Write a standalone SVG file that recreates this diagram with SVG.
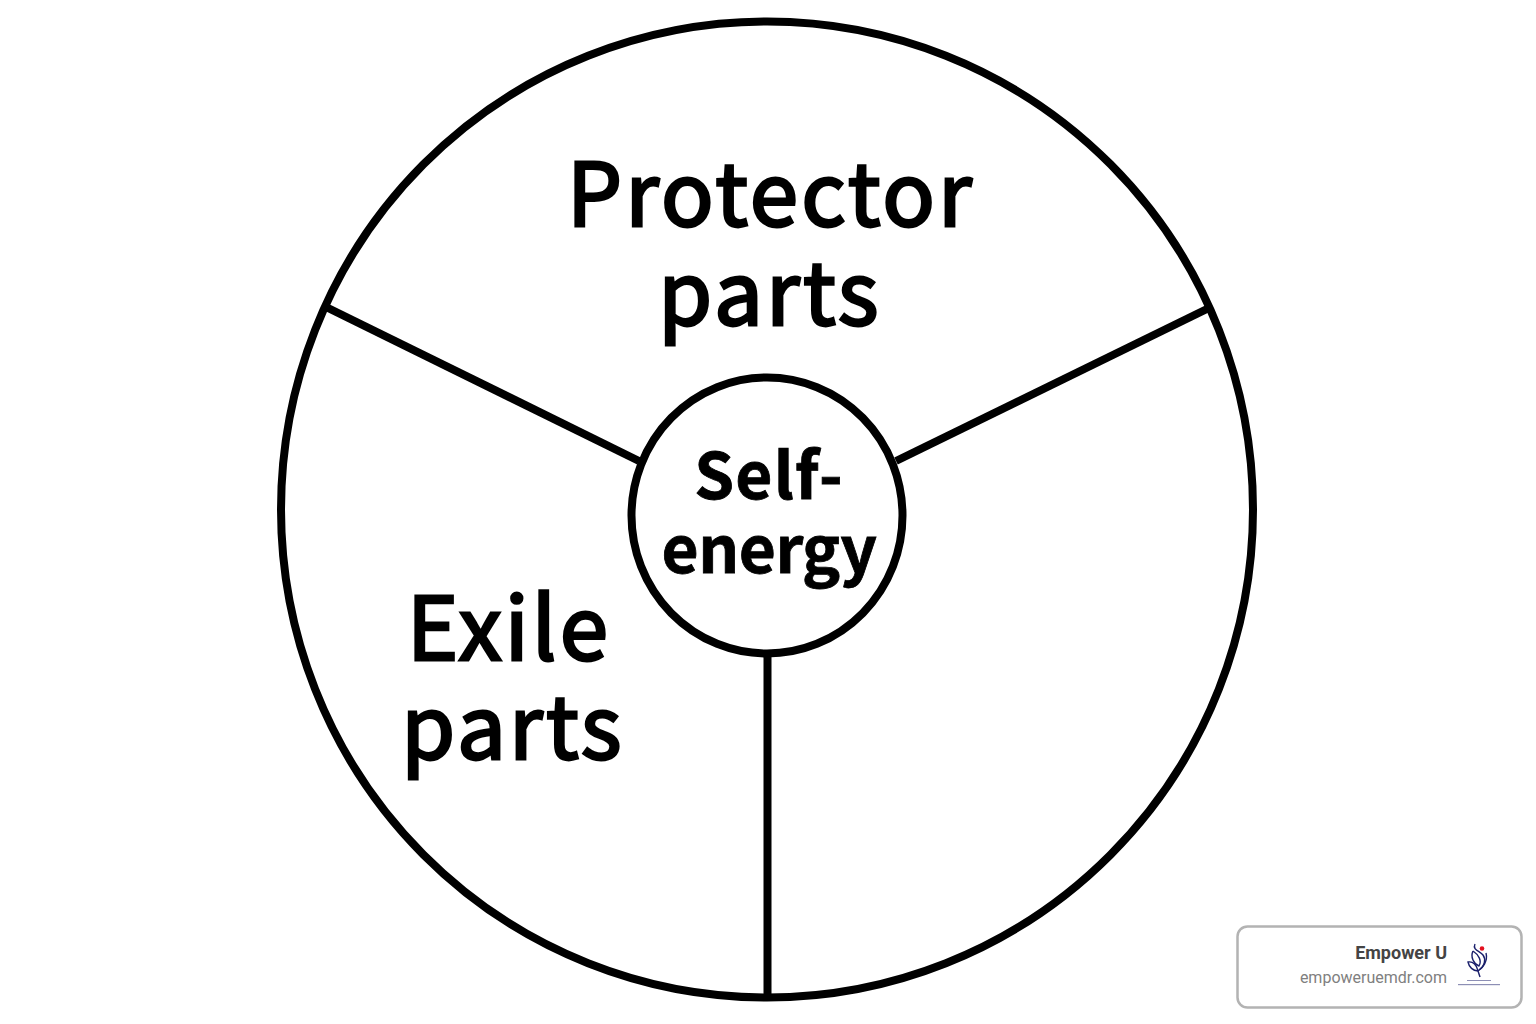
<svg xmlns="http://www.w3.org/2000/svg" width="1536" height="1024" viewBox="0 0 1536 1024">
<style>
.ln{fill:none;stroke:#000;stroke-width:8}
.big{font-family:"Noto Sans CJK JP","Noto Sans",sans-serif;font-size:87px;font-weight:400;fill:#000;stroke:#000;stroke-width:2.800;letter-spacing:3.100px;text-anchor:middle}
.mid{font-family:"Noto Sans CJK JP","Noto Sans",sans-serif;font-size:64px;font-weight:700;fill:#000;stroke:#000;stroke-width:0.800;text-anchor:middle}
.br{font-family:Roboto,"Liberation Sans",sans-serif;text-anchor:end}
.lg{fill:none;stroke:#1a1f6b;stroke-width:1.400}
</style>
<rect width="1536" height="1024" fill="#fff"/>
<g id="connectors">
<line class="ln" x1="326" y1="307" x2="639" y2="461"/>
<line class="ln" x1="1211" y1="307" x2="896" y2="461"/>
<line class="ln" x1="767.500" y1="654" x2="767.500" y2="998"/>
</g>
<g id="outer-circle"><ellipse class="ln" cx="767" cy="509.500" rx="486" ry="488"/></g>
<g id="protector-parts">
<text class="big" x="771" y="226">Protector</text>
<text class="big" x="770" y="325">parts</text>
</g>
<g id="exile-parts">
<text class="big" x="509" y="660">Exile</text>
<text class="big" x="513" y="759">parts</text>
</g>
<g id="self-energy">
<ellipse class="ln" cx="767" cy="515.500" rx="135.500" ry="138"/>
<text class="mid" x="769" y="499" letter-spacing="1.200">Self-</text>
<text class="mid" x="769" y="573" letter-spacing="-0.500">energy</text>
</g>
<g id="badge">
<rect x="1237.500" y="926.500" width="284" height="81" rx="10" fill="#fff" stroke="#b3b3b3" stroke-width="2.500"/>
<text class="br" x="1447" y="959" font-size="18" font-weight="700" fill="#444">Empower U</text>
<text class="br" x="1447" y="983" font-size="16" fill="#808080">empoweruemdr.com</text>
<circle cx="1482" cy="948.500" r="2.300" fill="#e3101f"/>
<path class="lg" d="M1475 944C1472 950 1480 951 1483 955C1486 959 1485 966 1479 970"/>
<path class="lg" d="M1486 953C1488 961 1483 968 1478 971C1473 971 1469 967 1468 962C1473 961 1477 965 1478 971"/>
<path class="lg" d="M1473 951C1470 957 1474 964 1479 966C1482 961 1479 955 1473 951"/>
<path class="lg" d="M1478 971L1480 977"/>
<rect x="1467" y="980" width="24" height="1" fill="#8d8fb5"/>
<rect x="1458" y="984" width="42" height="1.200" fill="#8d8fb5"/>
</g>
</svg>
